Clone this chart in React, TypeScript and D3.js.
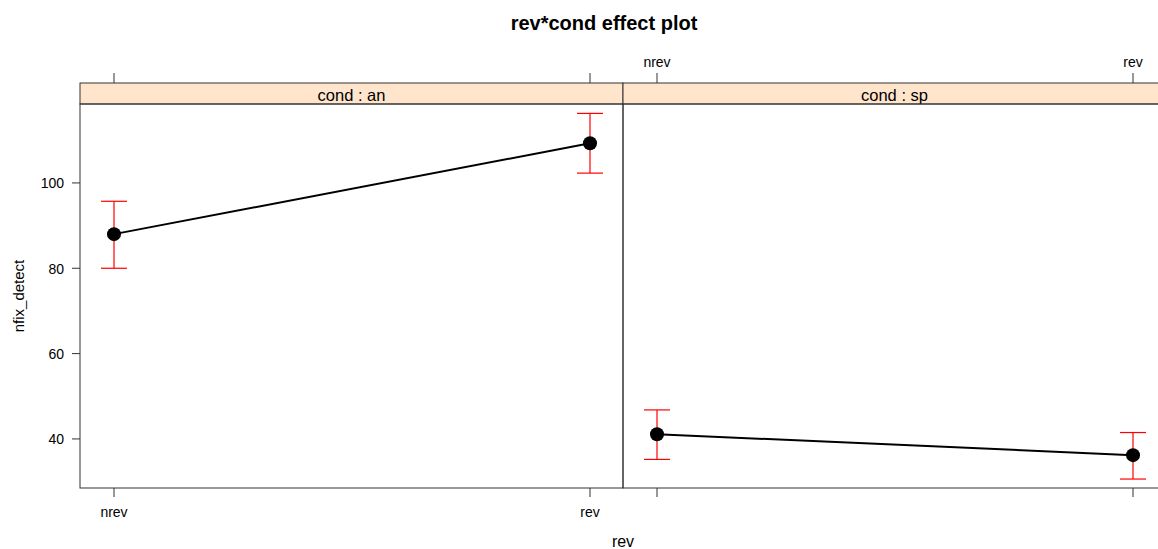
import React from "react";
import * as d3 from "d3";

// Effect estimates with 95% confidence limits for rev within each cond
const revLevels = ["nrev", "rev"];
const condLevels = ["an", "sp"];
const fitAn = [88.0, 109.3];
const lowerAn = [80.0, 102.3];
const upperAn = [95.7, 116.3];
const fitSp = [41.1, 36.2];
const lowerSp = [35.2, 30.6];
const upperSp = [46.8, 41.5];
const yTicks = [40, 60, 80, 100];

const W = 1158;
const H = 549;
const panelW = 543;
const panelLeft = 80;
const stripTop = 83;
const stripBottom = 104;
const panelBottom = 488;
const font = "Liberation Sans, Arial, sans-serif";

export default function App() {
  const y = d3.scaleLinear().domain([28.5, 118.5]).range([panelBottom, stripBottom]);
  const panels = condLevels.map((c, i) => ({
    cond: c,
    x0: panelLeft + i * panelW,
    fit: i === 0 ? fitAn : fitSp,
    lo: i === 0 ? lowerAn : lowerSp,
    hi: i === 0 ? upperAn : upperSp,
  }));

  return (
    <svg
      width={W}
      height={H}
      style={{ position: "absolute", left: 0, top: 0, background: "#fff" }}
      fontFamily={font}
    >
      <text x={604} y={30} textAnchor="middle" fontSize={20} fontWeight="bold">
        rev*cond effect plot
      </text>
      <text x={623} y={547} textAnchor="middle" fontSize={16}>
        rev
      </text>
      <text
        transform={`translate(24,${(stripBottom + panelBottom) / 2}) rotate(-90)`}
        textAnchor="middle"
        fontSize={15}
      >
        nfix_detect
      </text>

      {/* y axis on the left panel */}
      {yTicks.map((t) => (
        <g key={t}>
          <line x1={panelLeft - 8} x2={panelLeft} y1={y(t)} y2={y(t)} stroke="#333" />
          <text x={panelLeft - 16} y={y(t) + 5.5} textAnchor="end" fontSize={14}>
            {t}
          </text>
        </g>
      ))}

      {panels.map((p, i) => {
        const x = d3
          .scalePoint<string>()
          .domain(revLevels)
          .range([p.x0 + 34, p.x0 + panelW - 33]);
        const pts = revLevels.map((r, j) => [x(r)!, y(p.fit[j])] as [number, number]);
        const path = d3.line()(pts);
        return (
          <g key={p.cond}>
            <rect
              x={p.x0}
              y={stripTop}
              width={panelW}
              height={stripBottom - stripTop}
              fill="#ffe5cc"
              stroke="#333"
            />
            <text
              x={p.x0 + panelW / 2}
              y={stripBottom - 3}
              textAnchor="middle"
              fontSize={16.5}
            >
              {`cond : ${p.cond}`}
            </text>
            <rect
              x={p.x0}
              y={stripBottom}
              width={panelW}
              height={panelBottom - stripBottom}
              fill="none"
              stroke="#333"
            />
            {revLevels.map((r) => (
              <g key={r}>
                <line x1={x(r)} x2={x(r)} y1={stripTop - 10} y2={stripTop} stroke="#333" />
                <line
                  x1={x(r)}
                  x2={x(r)}
                  y1={panelBottom}
                  y2={panelBottom + 9}
                  stroke="#333"
                />
                {i === 0 ? (
                  <text x={x(r)} y={panelBottom + 29} textAnchor="middle" fontSize={14}>
                    {r}
                  </text>
                ) : (
                  <text x={x(r)} y={stripTop - 16} textAnchor="middle" fontSize={14}>
                    {r}
                  </text>
                )}
              </g>
            ))}
            {revLevels.map((r, j) => (
              <g key={"e" + r} stroke="#ff0000" strokeWidth={1.2}>
                <line x1={x(r)} x2={x(r)} y1={y(p.lo[j])} y2={y(p.hi[j])} />
                <line x1={x(r)! - 13} x2={x(r)! + 13} y1={y(p.lo[j])} y2={y(p.lo[j])} />
                <line x1={x(r)! - 13} x2={x(r)! + 13} y1={y(p.hi[j])} y2={y(p.hi[j])} />
              </g>
            ))}
            <path d={path!} fill="none" stroke="#000" strokeWidth={2} />
            {pts.map((pt, j) => (
              <circle key={j} cx={pt[0]} cy={pt[1]} r={7} fill="#000" />
            ))}
          </g>
        );
      })}
    </svg>
  );
}
